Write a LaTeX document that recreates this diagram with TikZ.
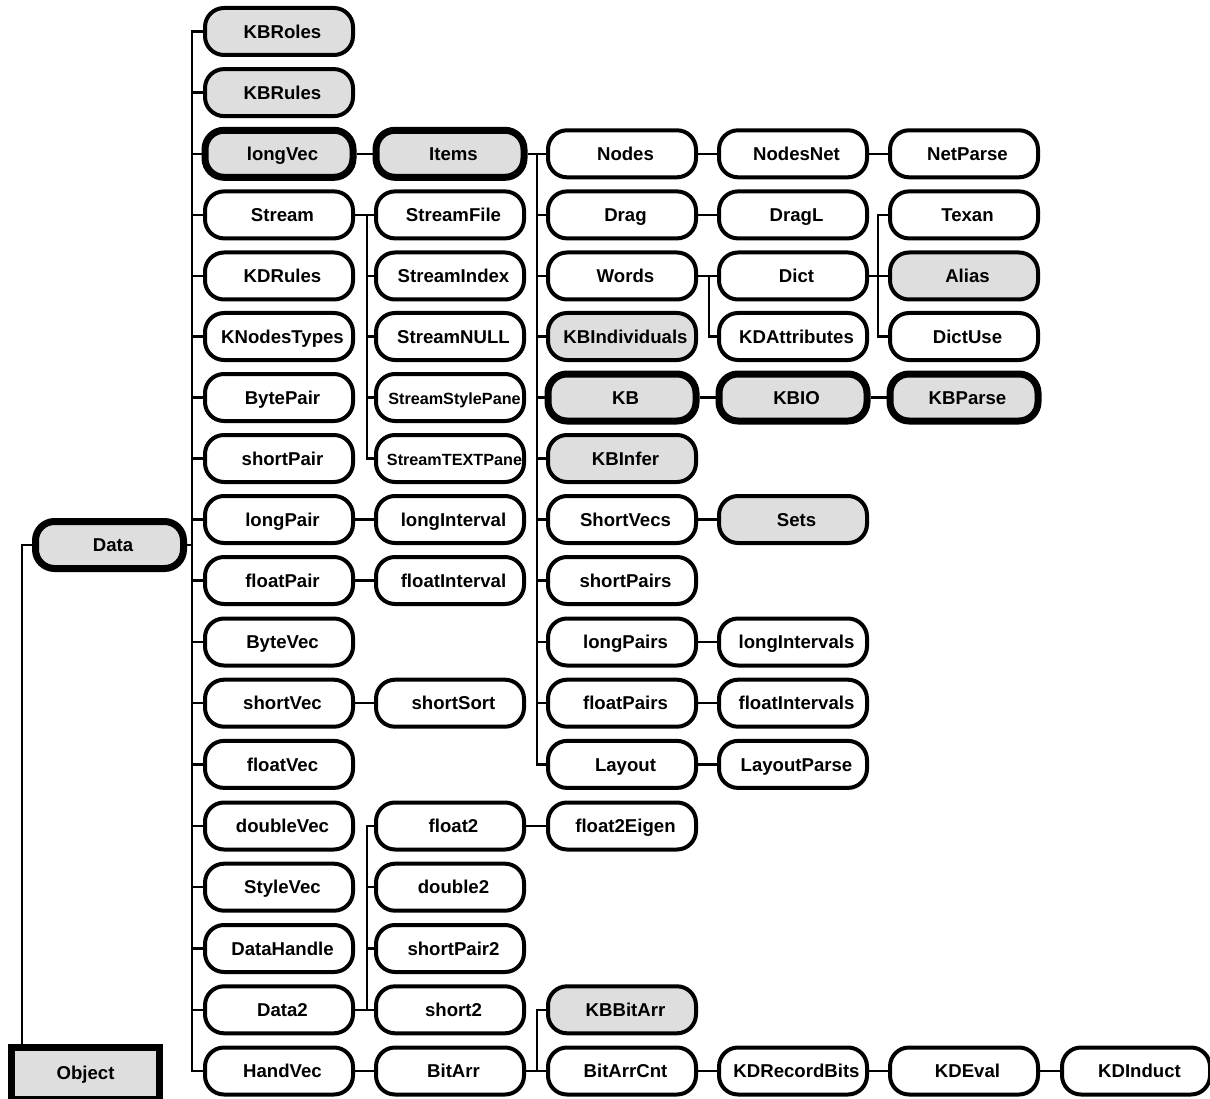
\documentclass[tikz,border=0pt]{standalone}
\usepackage{fontspec}
\setmainfont{Liberation Sans}
\tikzset{
  box/.style={draw=black, line width=4pt, rounded corners=19pt, fill=white,
    minimum width=148pt, minimum height=47pt, inner sep=0pt,
    text height=17pt, text depth=3.6pt,
    font=\bfseries\fontsize{18.6}{20}\selectfont,
    execute at begin node={\hspace*{7pt}}},
  hbox/.style={box, line width=7pt},
  gbox/.style={box, fill=black!13},
  ghbox/.style={hbox, fill=black!13},
  smalltxt/.style={font=\bfseries\fontsize{16.2}{18}\selectfont, text height=15.8pt, text depth=2.4pt, execute at begin node={\hspace*{2pt}}},
  conn/.style={draw=black, line width=2.2pt},
}
\begin{document}
\begin{tikzpicture}[x=1pt,y=-1pt]
\useasboundingbox (0,0) rectangle (1210,1099);
% Object and Data
\node[draw=black, line width=7pt, fill=black!13, minimum width=148pt, minimum height=52pt, inner sep=0pt,
  text height=17pt, text depth=3.6pt,
  font=\bfseries\fontsize{18.6}{20}\selectfont] (Object) at (85.5,1073) {Object};
\node[ghbox] (Data) at (109.5,545) {Data};
% column 1
\node[gbox] (KBRoles) at (279,31.5) {KBRoles};
\node[gbox] (KBRules) at (279,92.6) {KBRules};
\node[ghbox] (longVec) at (279,153.8) {longVec};
\node[box] (Stream) at (279,214.9) {Stream};
\node[box] (KDRules) at (279,276) {KDRules};
\node[box] (KNodesTypes) at (279,336.5) {KNodesTypes};
\node[box] (BytePair) at (279,397.5) {BytePair};
\node[box] (shortPair) at (279,458.5) {shortPair};
\node[box] (longPair) at (279,519.5) {longPair};
\node[box] (floatPair) at (279,580.5) {floatPair};
\node[box] (ByteVec) at (279,642) {ByteVec};
\node[box] (shortVec) at (279,703.2) {shortVec};
\node[box] (floatVec) at (279,764.4) {floatVec};
\node[box] (doubleVec) at (279,826) {doubleVec};
\node[box] (StyleVec) at (279,887.2) {StyleVec};
\node[box] (DataHandle) at (279,948.5) {DataHandle};
\node[box] (Data2) at (279,1009.8) {Data2};
\node[box] (HandVec) at (279,1071) {HandVec};
% column 2
\node[ghbox] (Items) at (450,153.8) {Items};
\node[box] (StreamFile) at (450,214.9) {StreamFile};
\node[box] (StreamIndex) at (450,276) {StreamIndex};
\node[box] (StreamNULL) at (450,336.5) {StreamNULL};
\node[box, smalltxt] (StreamStylePane) at (450,397.5) {StreamStylePane};
\node[box, smalltxt] (StreamTEXTPane) at (450,458.5) {StreamTEXTPane};
\node[box] (longInterval) at (450,519.5) {longInterval};
\node[box] (floatInterval) at (450,580.5) {floatInterval};
\node[box] (shortSort) at (450,703.2) {shortSort};
\node[box] (float2) at (450,826) {float2};
\node[box] (double2) at (450,887.2) {double2};
\node[box] (shortPair2) at (450,948.5) {shortPair2};
\node[box] (short2) at (450,1009.8) {short2};
\node[box] (BitArr) at (450,1071) {BitArr};
% column 3
\node[box] (Nodes) at (622,153.8) {Nodes};
\node[box] (Drag) at (622,214.9) {Drag};
\node[box] (Words) at (622,276) {Words};
\node[gbox] (KBIndividuals) at (622,336.5) {KBIndividuals};
\node[ghbox] (KB) at (622,397.5) {KB};
\node[gbox] (KBInfer) at (622,458.5) {KBInfer};
\node[box] (ShortVecs) at (622,519.5) {ShortVecs};
\node[box] (shortPairs) at (622,580.5) {shortPairs};
\node[box] (longPairs) at (622,642) {longPairs};
\node[box] (floatPairs) at (622,703.2) {floatPairs};
\node[box] (Layout) at (622,764.4) {Layout};
\node[box] (float2Eigen) at (622,826) {float2Eigen};
\node[gbox] (KBBitArr) at (622,1009.8) {KBBitArr};
\node[box] (BitArrCnt) at (622,1071) {BitArrCnt};
% column 4
\node[box] (NodesNet) at (793,153.8) {NodesNet};
\node[box] (DragL) at (793,214.9) {DragL};
\node[box] (Dict) at (793,276) {Dict};
\node[box] (KDAttributes) at (793,336.5) {KDAttributes};
\node[ghbox] (KBIO) at (793,397.5) {KBIO};
\node[gbox] (Sets) at (793,519.5) {Sets};
\node[box] (longIntervals) at (793,642) {longIntervals};
\node[box] (floatIntervals) at (793,703.2) {floatIntervals};
\node[box] (LayoutParse) at (793,764.4) {LayoutParse};
\node[box] (KDRecordBits) at (793,1071) {KDRecordBits};
% column 5
\node[box] (NetParse) at (964,153.8) {NetParse};
\node[box] (Texan) at (964,214.9) {Texan};
\node[gbox] (Alias) at (964,276) {Alias};
\node[box] (DictUse) at (964,336.5) {DictUse};
\node[ghbox] (KBParse) at (964,397.5) {KBParse};
\node[box] (KDEval) at (964,1071) {KDEval};
% column 6
\node[box] (KDInduct) at (1136,1071) {KDInduct};
% bus coordinates
\coordinate (busData) at (192,545);
\coordinate (busStream) at (367,214.9);
\coordinate (busItems) at (537,153.8);
\coordinate (busWords) at (709,276);
\coordinate (busDict) at (878,276);
\coordinate (busData2) at (367,1009.8);
\coordinate (busBitArr) at (537,1071);
% connectors
\draw[conn] ([xshift=14pt]Object.north west) |- (Data.west);
\draw[conn] (Data.east) -- (busData);
\foreach \n in {KBRoles,KBRules,longVec,Stream,KDRules,KNodesTypes,BytePair,shortPair,longPair,floatPair,ByteVec,shortVec,floatVec,doubleVec,StyleVec,DataHandle,Data2,HandVec}
  \draw[conn] (\n.west) -| (busData);
\draw[conn] (Stream.east) -- (busStream);
\foreach \n in {StreamFile,StreamIndex,StreamNULL,StreamStylePane,StreamTEXTPane}
  \draw[conn] (\n.west) -| (busStream);
\draw[conn] (Data2.east) -- (busData2);
\foreach \n in {float2,double2,shortPair2,short2}
  \draw[conn] (\n.west) -| (busData2);
\draw[conn] (longVec) -- (Items);
\draw[conn] (longPair) -- (longInterval);
\draw[conn] (floatPair) -- (floatInterval);
\draw[conn] (shortVec) -- (shortSort);
\draw[conn] (HandVec) -- (BitArr);
\draw[conn] (Items.east) -- (busItems);
\foreach \n in {Nodes,Drag,Words,KBIndividuals,KB,KBInfer,ShortVecs,shortPairs,longPairs,floatPairs,Layout}
  \draw[conn] (\n.west) -| (busItems);
\draw[conn] (BitArr.east) -- (busBitArr);
\foreach \n in {KBBitArr,BitArrCnt}
  \draw[conn] (\n.west) -| (busBitArr);
\draw[conn] (Words.east) -- (busWords);
\foreach \n in {Dict,KDAttributes}
  \draw[conn] (\n.west) -| (busWords);
\draw[conn] (Dict.east) -- (busDict);
\foreach \n in {Texan,Alias,DictUse}
  \draw[conn] (\n.west) -| (busDict);
\draw[conn] (Nodes) -- (NodesNet);
\draw[conn] (NodesNet) -- (NetParse);
\draw[conn] (Drag) -- (DragL);
\draw[conn] (KB) -- (KBIO);
\draw[conn] (KBIO) -- (KBParse);
\draw[conn] (ShortVecs) -- (Sets);
\draw[conn] (longPairs) -- (longIntervals);
\draw[conn] (floatPairs) -- (floatIntervals);
\draw[conn] (Layout) -- (LayoutParse);
\draw[conn] (float2) -- (float2Eigen);
\draw[conn] (BitArrCnt) -- (KDRecordBits);
\draw[conn] (KDRecordBits) -- (KDEval);
\draw[conn] (KDEval) -- (KDInduct);
\end{tikzpicture}
\end{document}
